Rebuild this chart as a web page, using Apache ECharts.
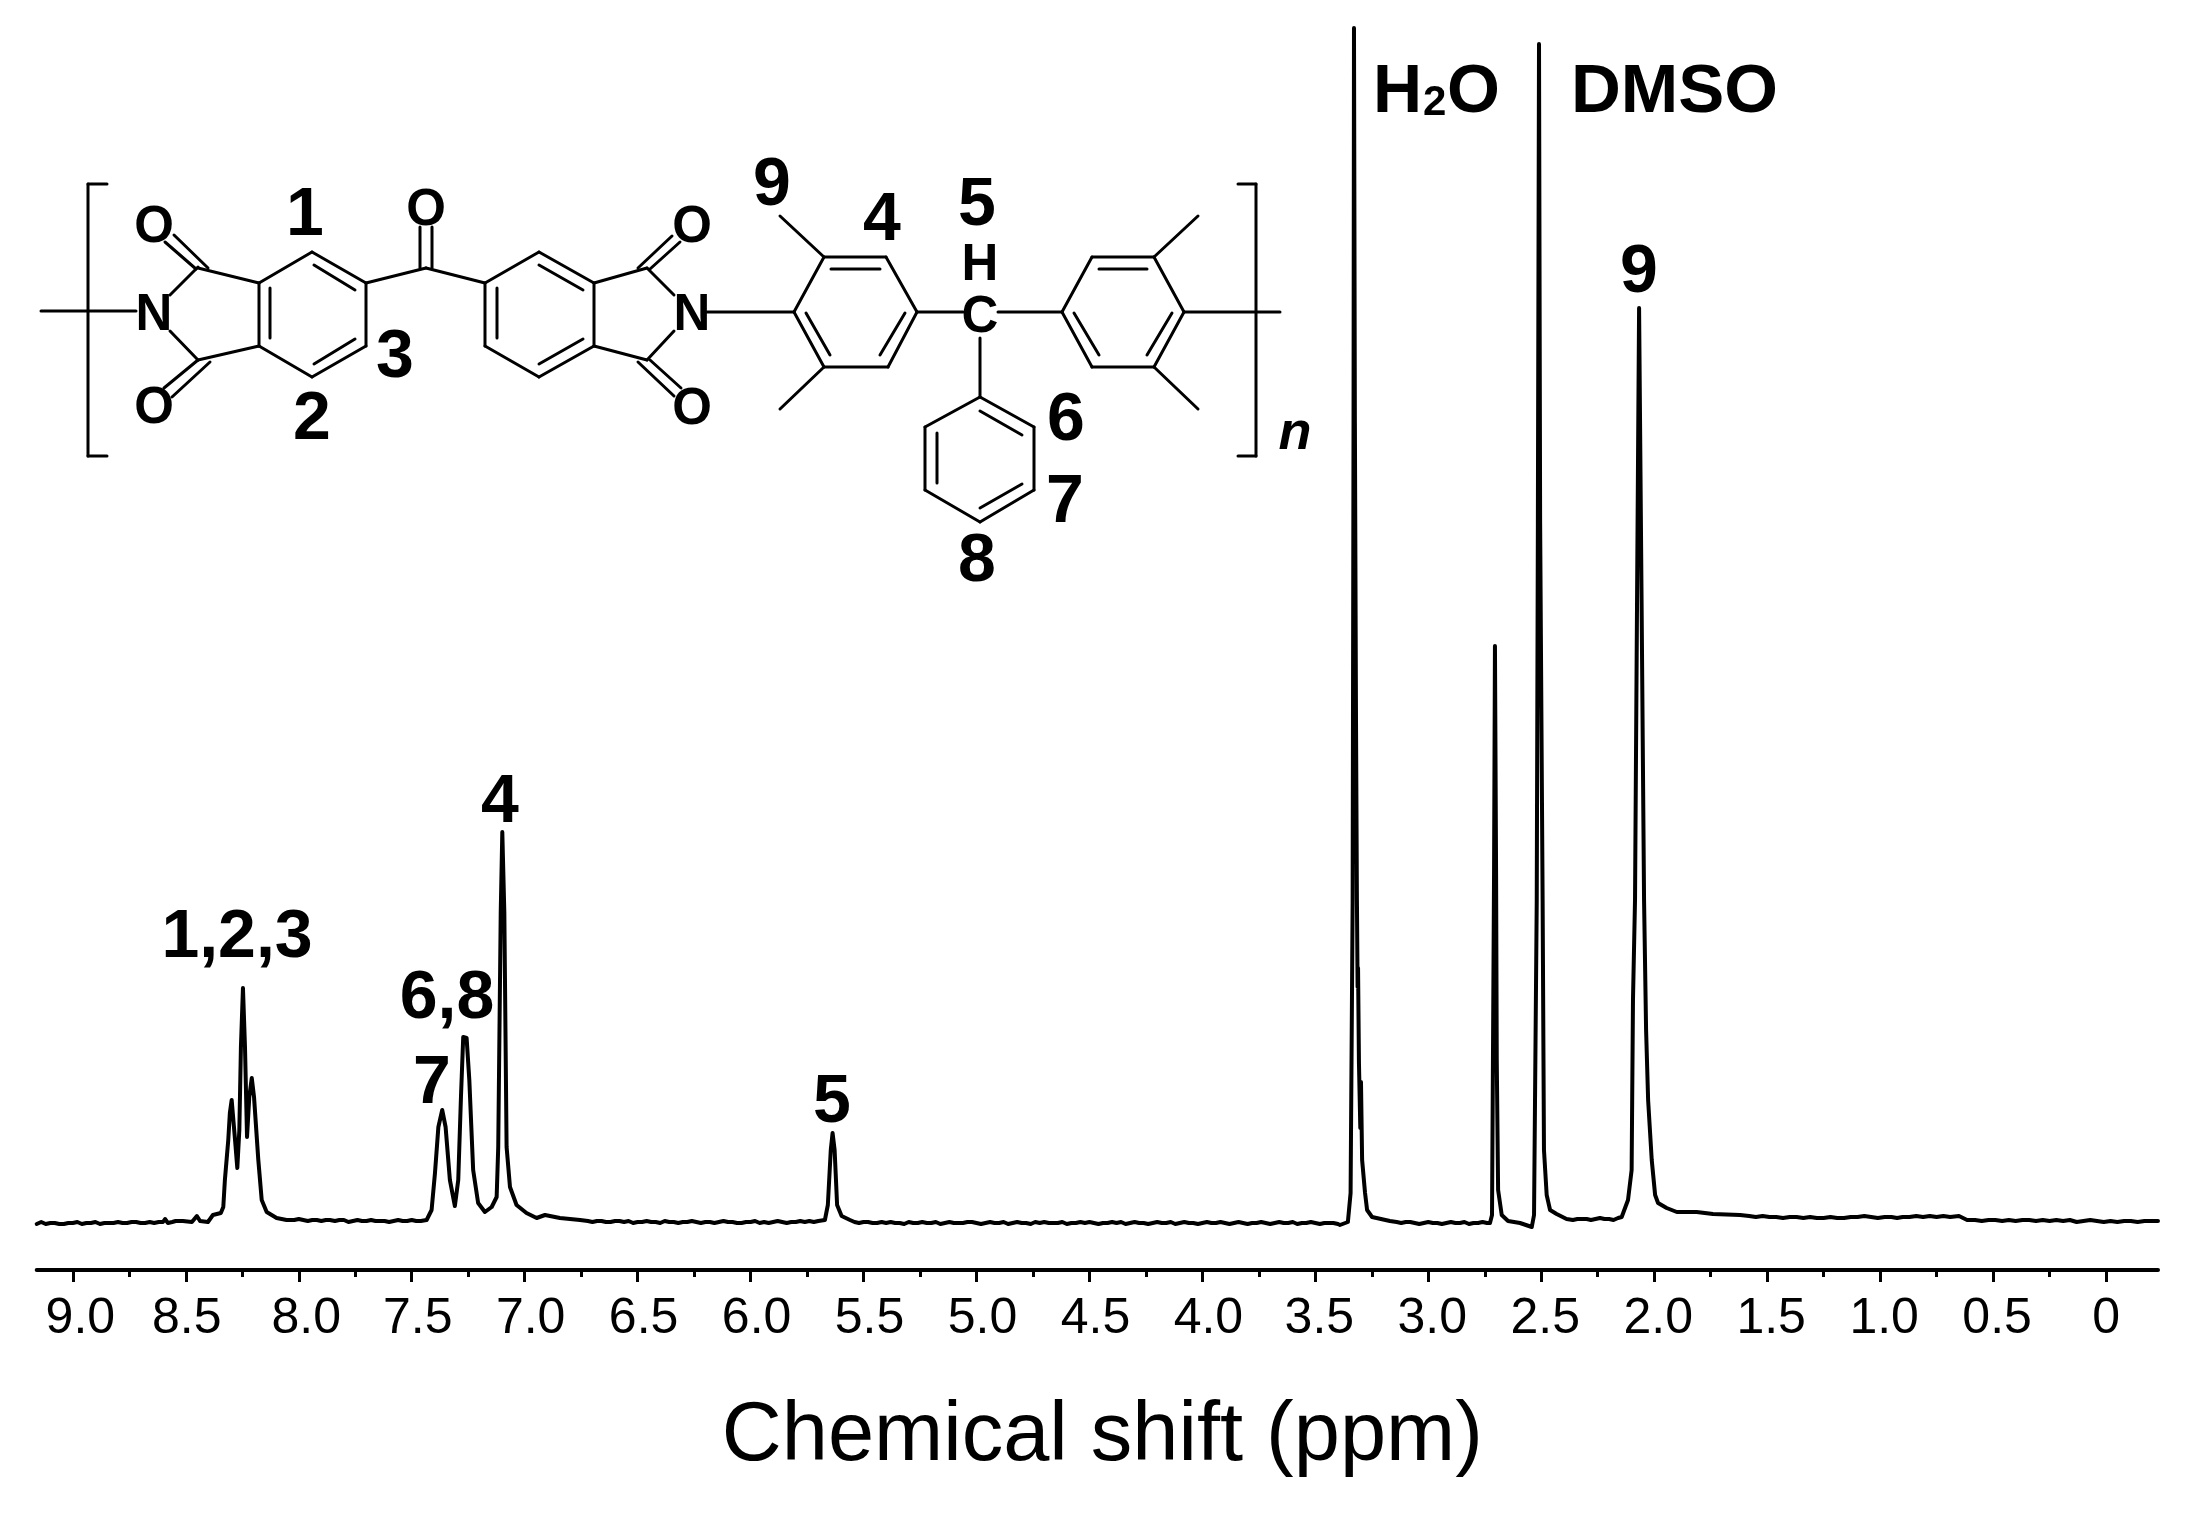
<!DOCTYPE html>
<html>
<head>
<meta charset="utf-8">
<style>html,body{margin:0;padding:0;background:#fff}#chart{width:2197px;height:1515px}</style>
<script src="https://cdn.jsdelivr.net/npm/echarts@6/dist/echarts.min.js"></script>
</head>
<body>
<div id="chart"></div>
<script>
// Spectrum, region by region: chemical shift (ppm) and intensity (arbitrary units)
const ppmBase1 = [9.16,9.14,9.12,9.10,9.08,9.06,9.04,9.02,9.00,8.98,8.96,8.94,8.92,8.90,8.88,8.86,8.84,8.82,8.80,8.78,8.76,8.74,8.72,8.70,8.68,8.66,8.64,8.62,8.601,8.592,8.579,8.56,8.545,8.513,8.473,8.451,8.437,8.402,8.38,8.345];
const intBase1 = [-1,1,-1,0,0,-1,-1,0,0,1,-1,0,0,1,-1,0,0,0,1,0,0,1,1,0,0,1,0,1,1,4,0,1,2,2,1,7,2,1,8,10];
const ppmAromatic = [8.334,8.327,8.312,8.305,8.297,8.290,8.282,8.272,8.263,8.256,8.247,8.238,8.229,8.219,8.208,8.198,8.179,8.164,8.142,8.098,8.054];
const intAromatic = [16,43,83,110,123,123,83,55,93,176,235,176,86,126,145,126,63,23,11,5,3];
const ppmBase2 = [8.02,8.00,7.98,7.96,7.94,7.92,7.90,7.88,7.862,7.84,7.82,7.80,7.78,7.76,7.74,7.72,7.70,7.68,7.66,7.64,7.62,7.60,7.58,7.56,7.54,7.52,7.50,7.48,7.46,7.434];
const intBase2 = [3,4,3,2,3,3,2,3,3,2,3,3,1,2,3,2,2,3,2,2,2,1,2,3,2,2,3,2,2,3];
const ppmPhenyl = [7.412,7.397,7.382,7.365,7.350,7.331,7.309,7.294,7.282,7.272,7.257,7.245,7.228,7.206,7.176,7.146,7.124,7.117,7.106,7.099,7.090,7.080,7.065,7.036,6.992,6.947,6.910,6.844,6.755];
const intPhenyl = [13,50,96,113,96,43,17,43,126,186,185,143,53,20,11,16,26,76,310,391,310,76,36,18,10,5,8,5,3];
const ppmBase3 = [6.72,6.70,6.68,6.66,6.64,6.62,6.60,6.58,6.56,6.54,6.52,6.50,6.48,6.46,6.44,6.42,6.40,6.38,6.36,6.34,6.32,6.30,6.28,6.26,6.24,6.22,6.20,6.18,6.16,6.14,6.12,6.10,6.08,6.06,6.04,6.02,6.00,5.98,5.96,5.94,5.92,5.90,5.88,5.86,5.84,5.82,5.80,5.78,5.76,5.74,5.72,5.70];
const intBase3 = [2,1,2,2,1,1,2,2,1,2,0,1,1,2,1,1,0,2,1,1,0,1,1,2,1,0,1,1,0,1,2,1,1,0,0,1,1,2,0,1,0,1,2,1,0,1,1,2,1,2,1,2];
const ppmMethine = [5.671,5.658,5.645,5.637,5.628,5.617,5.597,5.560];
const intMethine = [3,18,73,90,73,18,7,3];
const ppmBase4 = [5.54,5.52,5.50,5.48,5.46,5.44,5.42,5.40,5.38,5.36,5.34,5.32,5.30,5.28,5.26,5.24,5.22,5.20,5.18,5.16,5.14,5.12,5.10,5.08,5.06,5.04,5.02,5.00,4.98,4.96,4.94,4.92,4.90,4.88,4.86,4.84,4.82,4.80,4.78,4.76,4.74,4.72,4.70,4.68,4.66,4.64,4.62,4.60,4.58,4.56,4.54,4.52,4.50,4.48,4.46,4.44,4.42,4.40,4.38,4.36,4.34,4.32,4.30,4.28,4.26,4.24,4.22,4.20,4.18,4.16,4.14,4.12,4.10,4.08,4.06,4.04,4.02,4.00,3.98,3.96,3.94,3.92,3.90,3.88,3.86,3.84,3.82,3.80,3.78,3.76,3.74,3.72,3.70,3.68,3.66,3.64,3.62,3.60,3.58,3.56,3.54,3.52,3.50,3.48,3.46,3.44,3.42,3.40];
const intBase4 = [1,0,1,1,0,0,1,0,1,0,0,-1,1,0,0,1,0,0,1,-1,0,1,0,0,0,1,1,0,-1,0,1,0,0,1,-1,0,1,0,0,-1,1,0,1,0,0,0,1,-1,0,0,1,0,1,0,-1,0,0,1,0,1,-1,0,1,0,0,-1,0,1,0,0,1,-1,0,1,0,0,-1,0,1,0,0,1,0,-1,0,1,0,-1,0,0,1,0,-1,0,1,0,0,1,-1,0,0,1,0,-1,0,0,0,-1];
const ppmWater = [3.391,3.356,3.344,3.335,3.331,3.329,3.325,3.320,3.316,3.313,3.311,3.307,3.301,3.298,3.293,3.280,3.271,3.249,3.170];
const intWater = [-2,1,30,320,800,1195,800,500,323,236,255,160,95,141,63,30,13,6,2];
const ppmBase5 = [3.14,3.12,3.10,3.08,3.06,3.04,3.02,3.00,2.98,2.96,2.94,2.92,2.90,2.88,2.86,2.84,2.82,2.80,2.78,2.76,2.74,2.727];
const intBase5 = [1,0,1,1,0,-1,0,1,0,0,-1,0,1,0,0,1,-1,0,0,1,0,0];
const ppmSolvent = [2.718,2.715,2.709,2.705,2.700,2.697,2.691,2.675,2.647,2.594,2.542,2.539,2.532,2.520,2.515,2.510,2.505,2.494,2.488,2.476,2.461,2.432,2.388];
const intSolvent = [8,120,350,577,350,163,33,8,2,0,-4,-5,8,323,700,1179,700,323,73,28,13,9,4];
const ppmBase6 = [2.36,2.34,2.32,2.299,2.28,2.26,2.24,2.22,2.20,2.18,2.16,2.144];
const intBase6 = [3,4,4,4,3,4,5,4,4,3,5,6];
const ppmMethyl = [2.116,2.100,2.094,2.085,2.076,2.067,2.056,2.045,2.036,2.027,2.011,1.996,1.983,1.945,1.900,1.812,1.740,1.620];
const intMethyl = [23,53,223,323,623,915,623,323,193,123,63,28,20,15,11,11,9,8];
const ppmBase7 = [1.58,1.55,1.52,1.49,1.46,1.43,1.40,1.37,1.34,1.31,1.28,1.25,1.22,1.19,1.16,1.13,1.10,1.07,1.04,1.01,0.98,0.95,0.925,0.90,0.87,0.84,0.81,0.78,0.75,0.72,0.69,0.651,0.615,0.58,0.55,0.52,0.49,0.46,0.43,0.40,0.37,0.34,0.31,0.28,0.25,0.22,0.19,0.16,0.13,0.10,0.07,0.04,0.01,-0.02,-0.05,-0.08,-0.11,-0.14,-0.17,-0.20,-0.23];
const intBase7 = [7,6,7,6,6,5,6,6,5,6,5,5,6,5,5,6,6,7,6,5,6,6,5,6,6,7,6,7,6,7,6,7,3,3,2,3,3,2,3,2,3,3,2,3,2,3,2,3,1,2,3,2,1,2,1,2,2,1,2,2,2];

const tickValues = [0,0.5,1,1.5,2,2.5,3,3.5,4,4.5,5,5.5,6,6.5,7,7.5,8,8.5,9];
const minorTickValues = [0.25,0.75,1.25,1.75,2.25,2.75,3.25,3.75,4.25,4.75,5.25,5.75,6.25,6.75,7.25,7.75,8.25,8.75];
const tickLabels = ['0','0.5','1.0','1.5','2.0','2.5','3.0','3.5','4.0','4.5','5.0','5.5','6.0','6.5','7.0','7.5','8.0','8.5','9.0'];
const labelStyles = ['n0','n4','n4','n4','n4','n4','n4','n4','n6','n6','n6','n6','n6','n6','n6','n6','n7','n1','n7'];
const axisTitle = 'Chemical shift (ppm)';

const allPpm = [].concat(ppmBase1,ppmAromatic,ppmBase2,ppmPhenyl,ppmBase3,ppmMethine,ppmBase4,ppmWater,ppmBase5,ppmSolvent,ppmBase6,ppmMethyl,ppmBase7);
const allInt = [].concat(intBase1,intAromatic,intBase2,intPhenyl,intBase3,intMethine,intBase4,intWater,intBase5,intSolvent,intBase6,intMethyl,intBase7);
const spectrum = allPpm.map((p,i)=>[p,allInt[i]]);

// Drawing of the repeat unit and annotations (layout only, not chart data)
const bonds = [
 [41,311,136,311],[88,184,88,456],[88,184,107,184],[88,456,107,456],
 [170,295,198,267],[170,331,198,360],[198,268,259,283],[198,360,259,346],
 [165,242,196,269],[174,235,208,268],[164,388,198,360],[172,397,210,362],
 [259,283,312,252],[312,252,366,283],[366,283,366,346],[366,346,312,377],[312,377,259,346],[259,346,259,283],
 [270,288,270,338],[314,265,355,290],[314,364,355,339],
 [366,283,426,268],[426,268,485,283],[420,227,420,268],[432,227,432,268],
 [485,283,539,252],[539,252,594,283],[594,283,594,346],[594,346,539,377],[539,377,485,346],[485,346,485,283],
 [497,288,497,338],[539,265,583,290],[539,364,583,339],
 [594,283,647,268],[594,346,647,360],[647,268,674,295],[647,360,674,331],
 [638,268,672,236],[650,269,680,242],[638,362,674,396],[650,360,681,388],
 [707,312,794,312],
 [794,312,824,257],[824,257,886,257],[886,257,917,312],[917,312,888,367],[888,367,824,367],[824,367,794,312],
 [831,269,880,269],[806,313,830,355],[905,313,880,355],[824,257,780,216],[824,367,780,409],
 [917,312,963,312],[998,312,1062,312],[980,338,980,397],
 [980,397,1034,427],[1034,427,1034,490],[1034,490,980,522],[980,522,925,490],[925,490,925,427],[925,427,980,397],
 [980,411,1022,435],[980,508,1022,484],[937,433,937,483],
 [1062,312,1092,257],[1092,257,1154,257],[1154,257,1184,312],[1184,312,1154,367],[1154,367,1092,367],[1092,367,1062,312],
 [1099,269,1147,269],[1074,313,1099,355],[1172,313,1147,355],[1154,257,1198,216],[1154,367,1198,409],
 [1184,312,1280,312],[1256,184,1256,456],[1238,184,1256,184],[1238,456,1256,456]
];
const FONT = '"Liberation Sans", Arial, sans-serif';
const atomLabels = [['N',154,316],['N',692,316],['O',154,228],['O',154,409],['O',426,211],['O',692,228],['O',692,410],['H',980,266],['C',980,318]];
const numberLabels = [['1',305,216],['2',312,420],['3',395,358],['9',772,186],['4',882,221],['5',977,206],['6',1066,421],['7',1065,503],['8',977,562],
 ['1,2,3',237,938],['6,8',447,999],['7',432,1084],['4',500,803],['5',832,1103],['9',1639,273]];
const graphic = [];
bonds.forEach(b=>graphic.push({type:'line',silent:true,shape:{x1:b[0],y1:b[1],x2:b[2],y2:b[3]},style:{stroke:'#000',lineWidth:3,lineCap:'round'}}));
atomLabels.forEach(t=>graphic.push({type:'text',silent:true,x:t[1],y:t[2],style:{text:t[0],fill:'#000',font:'bold 51px '+FONT,align:'center',verticalAlign:'middle'}}));
numberLabels.forEach(t=>graphic.push({type:'text',silent:true,x:t[1],y:t[2],style:{text:t[0],fill:'#000',font:'bold 68px '+FONT,align:'center',verticalAlign:'middle'}}));
[['H',1373,93,68,'left'],['2',1423,103,42,'left'],['O',1447,93,68,'left'],['DMSO',1571,93,69,'left']].forEach(t=>graphic.push({type:'text',silent:true,x:t[1],y:t[2],style:{text:t[0],fill:'#000',font:'bold '+t[3]+'px '+FONT,align:t[4],verticalAlign:'middle'}}));
graphic.push({type:'text',silent:true,x:1295,y:434,style:{text:'n',fill:'#000',font:'italic bold 54px '+FONT,align:'center',verticalAlign:'middle'}});

const chart = echarts.init(document.getElementById('chart'),null,{renderer:'canvas'});
chart.setOption({
 animation:false,
 backgroundColor:'#fff',
 grid:{left:36.7,right:39,top:0,bottom:245,containLabel:false},
 xAxis:[{
   type:'value',inverse:true,min:-0.23,max:9.16,position:'bottom',
   name:axisTitle,nameLocation:'middle',nameGap:126,
   nameTextStyle:{fontFamily:FONT,fontSize:83,color:'#000',padding:[0,0,0,10]},
   axisLine:{show:true,onZero:false,lineStyle:{color:'#000',width:4}},
   axisTick:{show:true,customValues:tickValues,length:12,inside:false,lineStyle:{color:'#000',width:3}},
   axisLabel:{show:true,customValues:tickValues,margin:24,fontFamily:FONT,fontSize:50,color:'#000',
     formatter:v=>{const i=tickValues.indexOf(v);return '{'+labelStyles[i]+'|'+tickLabels[i]+'}';},
     rich:{
       n0:{fontFamily:FONT,fontSize:50,color:'#000'},
       n1:{fontFamily:FONT,fontSize:50,color:'#000',padding:[0,0,0,2]},
       n4:{fontFamily:FONT,fontSize:50,color:'#000',padding:[0,0,0,8]},
       n6:{fontFamily:FONT,fontSize:50,color:'#000',padding:[0,0,0,12]},
       n7:{fontFamily:FONT,fontSize:50,color:'#000',padding:[0,0,0,15]}
     }},
   splitLine:{show:false},minorTick:{show:false}
 },{
   type:'value',inverse:true,min:-0.23,max:9.16,position:'bottom',
   axisLine:{show:false,onZero:false},
   axisTick:{show:true,customValues:minorTickValues,length:7,lineStyle:{color:'#000',width:3}},
   axisLabel:{show:false},splitLine:{show:false}
 }],
 yAxis:{type:'value',min:-47,max:1223,show:false,splitLine:{show:false}},
 series:[{type:'line',xAxisIndex:0,data:spectrum,showSymbol:false,symbol:'none',smooth:false,sampling:null,clip:false,
   lineStyle:{color:'#000',width:4,join:'round',cap:'round'}}],
 graphic:graphic
});
</script>
</body>
</html>
